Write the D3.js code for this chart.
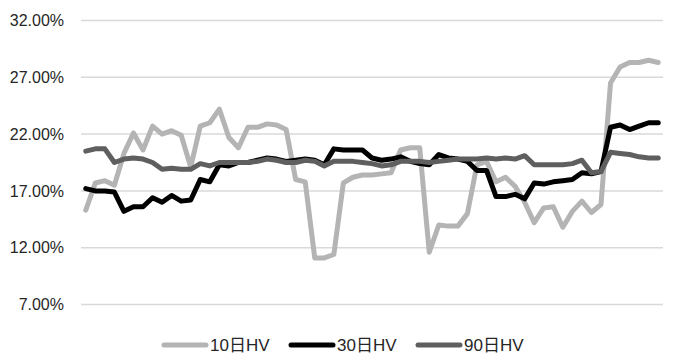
<!DOCTYPE html>
<html>
<head>
<meta charset="utf-8">
<script src="https://cdn.jsdelivr.net/npm/d3@7"></script>
<style>
  body { margin: 0; background: #fff; }
  text { font-family: "Liberation Sans", "Noto Sans CJK SC", sans-serif; fill: #262626; }
</style>
</head>
<body>
<svg id="chart" width="673" height="364"></svg>
<script>
// volatility readings, in percent, one per trading day
var hv10 = [15.3,17.7,17.9,17.5,20.3,22.1,20.6,22.7,22.0,22.3,
            21.9,19.1,22.7,23.0,24.2,21.7,20.8,22.6,22.6,22.9,
            22.8,22.4,18.0,17.8,11.1,11.1,11.4,17.7,18.2,18.4,
            18.4,18.5,18.6,20.6,20.8,20.8,11.6,14.0,13.9,13.9,
            15.0,19.3,19.6,17.8,18.2,17.4,16.0,14.2,15.5,15.6,
            13.8,15.2,16.1,15.1,15.8,26.5,27.9,28.3,28.3,28.5,28.3];
var hv30 = [17.2,17.0,17.0,16.9,15.2,15.6,15.6,16.4,16.0,16.6,
            16.1,16.2,18.0,17.8,19.3,19.2,19.5,19.5,19.7,19.9,
            19.8,19.6,19.7,19.8,19.7,19.3,20.7,20.6,20.6,20.6,
            19.9,19.7,19.8,20.0,19.6,19.4,19.3,20.2,19.9,19.8,
            19.6,18.8,18.8,16.5,16.5,16.7,16.3,17.7,17.6,17.8,
            17.9,18.0,18.6,18.5,18.7,22.6,22.8,22.4,22.7,23.0,23.0];
var hv90 = [20.5,20.7,20.7,19.5,19.8,19.9,19.8,19.5,18.9,19.0,
            18.9,18.9,19.4,19.2,19.5,19.5,19.5,19.5,19.6,19.8,
            19.7,19.5,19.5,19.7,19.6,19.2,19.6,19.6,19.6,19.5,
            19.4,19.2,19.3,19.6,19.6,19.6,19.5,19.6,19.7,19.8,
            19.8,19.8,19.9,19.8,19.9,19.8,20.1,19.3,19.3,19.3,
            19.3,19.4,19.7,18.6,18.7,20.4,20.3,20.2,20.0,19.9,19.9];
var yTicks = [7, 12, 17, 22, 27, 32];
var seriesNames = ["10日HV", "30日HV", "90日HV"];
var seriesColors = ["#b4b4b4", "#000000", "#5f5f5f"];

var svg = d3.select("#chart");
var plot = {left: 81, right: 663, top: 20.5, bottom: 304.5};

var days = d3.range(hv10.length);
var x = d3.scalePoint().domain(days).range([plot.left, plot.right]).padding(0.5);
var y = d3.scaleLinear().domain([7, 32]).range([plot.bottom, plot.top]);

// gridlines
svg.append("g").selectAll("line")
  .data(yTicks)
  .enter().append("line")
  .attr("x1", plot.left).attr("x2", plot.right)
  .attr("y1", function (d) { return y(d); })
  .attr("y2", function (d) { return y(d); })
  .attr("stroke", "#d9d9d9")
  .attr("stroke-width", 1.5);

// y labels
svg.append("g").selectAll("text")
  .data(yTicks)
  .enter().append("text")
  .attr("x", 64)
  .attr("y", function (d) { return y(d); })
  .attr("dy", "0.35em")
  .attr("text-anchor", "end")
  .style("font-size", "16px")
  .text(function (d) { return d3.format(".2f")(d) + "%"; });

var line = d3.line()
  .x(function (d, i) { return x(i); })
  .y(function (d) { return y(d); });

var allSeries = [hv10, hv30, hv90];
svg.append("g").selectAll("path")
  .data(allSeries)
  .enter().append("path")
  .attr("d", line)
  .attr("fill", "none")
  .attr("stroke", function (d, i) { return seriesColors[i]; })
  .attr("stroke-width", 5)
  .attr("stroke-linejoin", "round")
  .attr("stroke-linecap", "round");

// legend
var legendX = [164, 291, 418];
var leg = svg.append("g").selectAll("g")
  .data(seriesNames)
  .enter().append("g")
  .attr("transform", function (d, i) { return "translate(" + legendX[i] + ",345)"; });
leg.append("line")
  .attr("x1", 0).attr("x2", 42)
  .attr("stroke", function (d, i) { return seriesColors[i]; })
  .attr("stroke-width", 5)
  .attr("stroke-linecap", "round");
leg.append("text")
  .attr("x", 46)
  .attr("dy", "0.35em")
  .style("font-size", "17px")
  .text(function (d) { return d; });
</script>
</body>
</html>
